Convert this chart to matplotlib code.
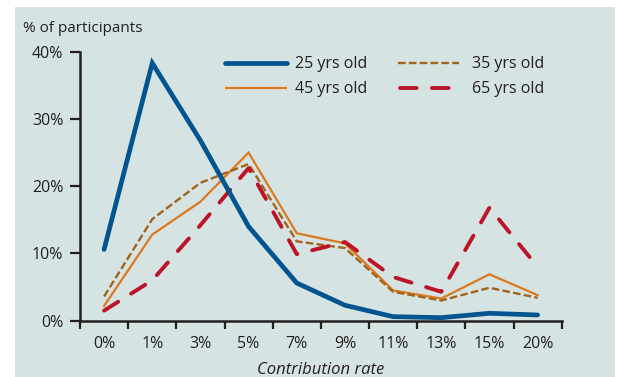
import matplotlib
matplotlib.use("Agg")
import matplotlib.pyplot as plt
from matplotlib.patches import Rectangle
from matplotlib.lines import Line2D

plt.rcParams['font.family'] = ['Open Sans', 'DejaVu Sans']
plt.rcParams['lines.scale_dashes'] = False

categories = ["0%", "1%", "3%", "5%", "7%", "9%", "11%", "13%", "15%", "20%"]
age_25 = [10.6, 38.3, 26.8, 14.0, 5.6, 2.3, 0.6, 0.45, 1.1, 0.85]
age_35 = [3.6, 15.1, 20.5, 23.3, 11.8, 10.8, 4.3, 3.0, 4.9, 3.4]
age_45 = [2.2, 12.8, 17.7, 25.0, 13.0, 11.5, 4.5, 3.3, 6.9, 3.8]
age_65 = [1.5, 6.0, 14.2, 22.7, 9.9, 11.7, 6.5, 4.3, 16.8, 8.0]
y_ticks = [0, 10, 20, 30, 40]

W, H = 618, 377
BG = "#d6e3e3"
TXT = "#231f20"
C25, C35, C45, C65 = "#005590", "#a0641a", "#dc781e", "#bb1426"


def px(x, y):
    """Pixel position (from top-left) to figure fraction."""
    return x / W, 1 - y / H


fig = plt.figure(figsize=(W / 100, H / 100), dpi=100)
fig.patch.set_facecolor("white")
fig.patches.append(Rectangle((15 / W, 0), 600 / W, (H - 7) / H,
                             transform=fig.transFigure, facecolor=BG,
                             edgecolor="none", zorder=-10))

ax = fig.add_axes([80 / W, (H - 320.7) / H, (561.7 - 80) / W, (320.7 - 51.7) / H])
ax.set_facecolor("none")

x = list(range(len(categories)))

ax.plot(x, age_25, color=C25, lw=3.4, solid_capstyle="round",
        solid_joinstyle="miter", zorder=5)
ax.plot(x, age_45, color=C45, lw=1.6, solid_joinstyle="miter", zorder=3)
ax.plot(x, age_35, color=C35, lw=1.7, dashes=(5.5, 2.3),
        dash_capstyle="butt", zorder=4)
ax.plot(x, age_65, color=C65, lw=2.8, dashes=(12.0, 11.0),
        dash_capstyle="round", zorder=4)

ax.set_xlim(-0.5, len(categories) - 0.5)
ax.set_ylim(0, 40)

ax.set_xticks(x)
ax.set_xticklabels(categories)
ax.set_xticks([i - 0.5 for i in range(len(categories) + 1)], minor=True)
ax.tick_params(axis="x", which="major", length=0, pad=11, labelsize=11.5,
               labelcolor=TXT)
ax.tick_params(axis="x", which="minor", length=5.5, width=1.6, color=TXT,
               direction="out")
ax.set_yticks(y_ticks)
ax.set_yticklabels([f"{v}%" for v in y_ticks])
ax.tick_params(axis="y", length=7, width=1.6, color=TXT, pad=5,
               labelsize=11.5, labelcolor=TXT)

for side in ("top", "right"):
    ax.spines[side].set_visible(False)
for side in ("left", "bottom"):
    ax.spines[side].set_linewidth(1.8)
    ax.spines[side].set_color(TXT)
    ax.spines[side].set_capstyle("projecting")

ax.set_xlabel("Contribution rate", style="italic", fontsize=12, color=TXT,
              labelpad=7)

fig.text(*px(23, 32.5), "% of participants", fontsize=11, color=TXT,
         ha="left", va="baseline")

# Two-column key drawn in figure pixels
key = [
    ("25 yrs old", dict(color=C25, lw=3.4, solid_capstyle="round"), 225, 287, 62.7, 295),
    ("45 yrs old", dict(color=C45, lw=1.6, solid_capstyle="butt"), 225, 287, 88.3, 295),
    ("35 yrs old", dict(color=C35, lw=1.7, dashes=(5.5, 2.3), dash_capstyle="butt"),
     398, 459, 62.7, 472),
    ("65 yrs old", dict(color=C65, lw=2.8, dashes=(12.0, 11.0), dash_capstyle="round"),
     400, 450, 88.3, 472),
]
for label, style, x0, x1, yk, xt in key:
    (fx0, fy), (fx1, _) = px(x0, yk), px(x1, yk)
    fig.add_artist(Line2D([fx0, fx1], [fy, fy], transform=fig.transFigure, **style))
    fig.text(*px(xt, yk + 1), label, fontsize=11.5, color=TXT,
             ha="left", va="center")

fig.savefig("out.png", dpi=100, facecolor="white")
